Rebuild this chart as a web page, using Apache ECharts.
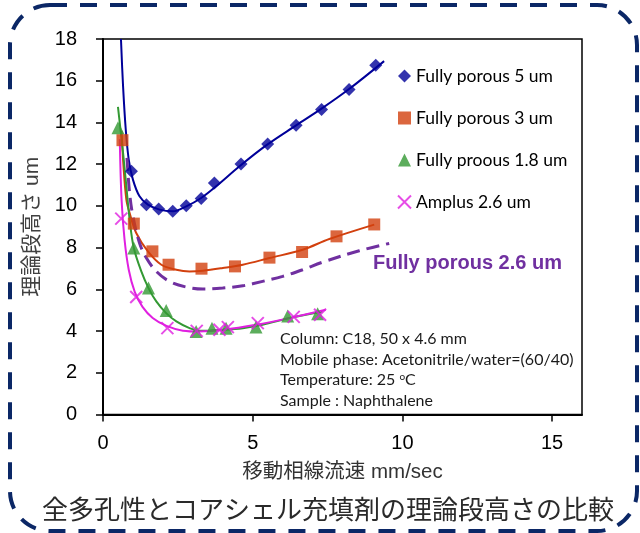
<!DOCTYPE html>
<html><head><meta charset="utf-8">
<script src="https://cdn.jsdelivr.net/npm/echarts@6/dist/echarts.min.js"></script>
<style>html,body{margin:0;padding:0;background:#fff}#c{width:640px;height:533px}</style>
</head><body><div id="c"></div>
<script>
// ---- data ----
const xTicks = [0, 5, 10, 15];
const seriesNames = ['Fully porous 5 um', 'Fully porous 3 um', 'Fully proous 1.8 um', 'Amplus 2.6 um'];

// Fully porous 5 um (measured points)
const fp5X = [0.95, 1.45, 1.86, 2.33, 2.78, 3.28, 3.72, 4.61, 5.50, 6.45, 7.30, 8.22, 9.11];
const fp5Y = [11.66, 10.06, 9.85, 9.74, 10.01, 10.35, 11.10, 12.01, 12.97, 13.86, 14.62, 15.58, 16.74];
// fitted curve as drawn
const fp5FitX = [0.60, 0.67, 0.76, 0.86, 1.00, 1.22, 1.50, 1.89, 2.33, 2.78, 3.28, 3.78, 4.56, 5.45, 6.45, 7.30, 8.22, 9.39];
const fp5FitY = [18.0, 15.74, 13.66, 12.22, 11.26, 10.46, 10.06, 9.82, 9.74, 9.98, 10.38, 10.94, 11.90, 12.90, 13.86, 14.66, 15.60, 16.94];

// Fully porous 3 um
const fp3X = [0.65, 1.03, 1.65, 2.19, 3.29, 4.41, 5.56, 6.65, 7.80, 9.06];
const fp3Y = [13.15, 9.15, 7.82, 7.18, 6.99, 7.10, 7.52, 7.79, 8.54, 9.11];
const fp3FitX = [0.62, 0.68, 0.78, 0.89, 1.11, 1.50, 1.95, 2.45, 2.89, 3.33, 4.00, 4.67, 5.56, 6.67, 7.56, 9.06];
const fp3FitY = [13.6, 12.0, 10.3, 9.66, 8.70, 7.82, 7.18, 6.94, 6.86, 6.89, 7.02, 7.18, 7.50, 7.90, 8.41, 9.10];

// Fully porous 2.6 um (dashed curve only)
const fp26FitX = [0.80, 0.89, 1.00, 1.22, 1.45, 1.78, 2.22, 2.78, 3.33, 4.00, 4.67, 5.33, 6.00, 6.67, 7.33, 8.56, 9.56];
const fp26FitY = [12.3, 10.6, 9.5, 8.22, 7.50, 6.86, 6.38, 6.11, 6.01, 6.06, 6.17, 6.38, 6.62, 6.94, 7.30, 7.85, 8.20];

// Fully proous 1.8 um
const fp18X = [0.50, 1.03, 1.52, 2.11, 3.11, 3.64, 4.11, 5.11, 6.17, 7.17];
const fp18Y = [13.74, 7.98, 6.06, 4.98, 3.98, 4.14, 4.14, 4.19, 4.72, 4.83];
const fp18FitX = [0.50, 0.67, 0.78, 0.89, 1.03, 1.28, 1.52, 1.78, 2.11, 2.45, 2.89, 3.22, 4.00, 4.67, 5.33, 6.22, 7.33];
const fp18FitY = [14.75, 12.54, 10.94, 9.34, 7.98, 6.86, 6.06, 5.42, 4.86, 4.46, 4.14, 4.01, 4.06, 4.14, 4.30, 4.62, 4.94];

// Amplus 2.6 um
const ampX = [0.61, 1.11, 2.15, 3.13, 3.89, 4.17, 5.17, 6.37, 7.25];
const ampY = [9.39, 5.63, 4.14, 4.01, 4.06, 4.19, 4.38, 4.68, 4.78];
const ampFitX = [0.56, 0.62, 0.72, 0.86, 1.06, 1.32, 1.66, 2.12, 2.67, 3.22, 4.00, 5.11, 6.22, 7.44];
const ampFitY = [13.2, 10.3, 8.38, 6.94, 5.88, 5.16, 4.63, 4.25, 4.02, 3.98, 4.06, 4.30, 4.62, 5.02];

const noteLines = ['Column: C18, 50 x 4.6 mm', 'Mobile phase: Acetonitrile/water=(60/40)', '{a|Temperature: 25 }{s|o}{a|C}', 'Sample : Naphthalene'];
const fp26Label = 'Fully porous 2.6 um';
const titleText = '全多孔性とコアシェル充填剤の理論段高さの比較';
const xName = '移動相線流速 mm/sec';
const yName = '理論段高さ um';

// ---- build ----
const zip = (xs, ys) => xs.map((x, i) => [x, ys[i]]);
const C5 = '#000099', C3 = '#d2400e', C18 = '#339933', CA = '#e020e0', C26 = '#7030a0';
const crossPath = 'path://M0,0L10,10M10,0L0,10';

function fitLine(name, xs, ys, color, dashed) {
  return {
    type: 'line', name: name, data: zip(xs, ys), showSymbol: false, smooth: 0.35,
    lineStyle: { color: color, width: dashed ? 3 : 2, type: dashed ? [13, 7] : 'solid' },
    z: 2, silent: true, clip: true
  };
}
function pts(name, xs, ys, symbol, color, size, extra) {
  return Object.assign({
    type: 'scatter', name: name, data: zip(xs, ys), symbol: symbol, symbolSize: size,
    itemStyle: { color: color }, z: 3
  }, extra || {});
}

const chart = echarts.init(document.getElementById('c'), null, { renderer: 'canvas' });
const tickFont = { fontFamily: 'Liberation Sans, Arial', fontSize: 20, color: '#000' };
const noteFont = 'Lato';
const noteSize = 16;

chart.setOption({
  animation: false,
  backgroundColor: '#fff',
  grid: { left: 103, right: 58, top: 39, bottom: 118.5, show: true, borderColor: '#000', borderWidth: 1.5 },
  xAxis: {
    type: 'value', min: 0, max: 16, interval: 5,
    name: xName, nameLocation: 'middle', nameGap: 48,
    nameTextStyle: { fontFamily: 'Liberation Sans, Noto Sans CJK JP', fontSize: 20.5, color: '#333' },
    axisLine: { lineStyle: { color: '#000', width: 2 } },
    axisTick: { show: true, inside: false, length: 7, customValues: xTicks, lineStyle: { color: '#000', width: 1.5 } },
    axisLabel: Object.assign({ margin: 19, customValues: xTicks }, tickFont),
    splitLine: { show: false }
  },
  yAxis: {
    type: 'value', min: 0, max: 18, interval: 2,
    name: yName, nameLocation: 'middle', nameGap: 60, nameRotate: 90,
    nameTextStyle: { fontFamily: 'Liberation Sans, Noto Sans CJK JP', fontSize: 21, color: '#404040' },
    axisLine: { show: true, lineStyle: { color: '#000', width: 2 } },
    axisTick: { show: true, inside: false, length: 7, lineStyle: { color: '#000', width: 1.5 } },
    axisLabel: Object.assign({ margin: 26 }, tickFont),
    splitLine: { show: false }
  },
  legend: {
    data: seriesNames, orient: 'vertical', left: 392, top: 62,
    itemWidth: 13, itemHeight: 13, itemGap: 24,
    textStyle: { fontFamily: 'Lato', fontSize: 17.5, color: '#000', lineHeight: 18 }
  },
  series: [
    fitLine('fit5', fp5FitX, fp5FitY, C5),
    fitLine('fit3', fp3FitX, fp3FitY, C3),
    fitLine('fit26', fp26FitX, fp26FitY, C26, true),
    fitLine('fit18', fp18FitX, fp18FitY, C18),
    fitLine('fitA', ampFitX, ampFitY, CA),
    pts(seriesNames[0], fp5X, fp5Y, 'diamond', C5, 13),
    pts(seriesNames[1], fp3X, fp3Y, 'rect', C3, 12),
    pts(seriesNames[2], fp18X, fp18Y, 'triangle', C18, 13),
    pts(seriesNames[3], ampX, ampY, crossPath, CA, 12, { itemStyle: { color: 'rgba(0,0,0,0)', borderColor: CA, borderWidth: 2 } })
  ],
  graphic: [
    { type: 'rect', shape: { x: 10, y: 5, width: 627, height: 526, r: 40 },
      style: { fill: 'none', stroke: '#0b2766', lineWidth: 4, lineDash: [17, 13] }, silent: true },
    { type: 'text', left: 373, top: 253,
      style: { text: fp26Label, fontFamily: 'Liberation Sans, Arial', fontWeight: 'bold', fontSize: 20, fill: C26 } },
    { type: 'text', x: 328, y: 509,
      style: { text: titleText, fontFamily: 'Noto Sans CJK JP', fontSize: 26, fill: '#2a2a2a', align: 'center', verticalAlign: 'middle' } }
  ].concat(noteLines.map((t, i) => ({
    type: 'text', x: 280, y: 339 + i * 20.5,
    style: { text: t, verticalAlign: 'middle', fontFamily: noteFont, fontSize: noteSize, fill: '#1a1a1a',
      rich: { a: { fontFamily: noteFont, fontSize: noteSize, color: '#1a1a1a' },
              s: { fontFamily: noteFont, fontSize: 10, color: '#1a1a1a', padding: [0, 0, 7, 0] } } }
  })))
});
</script></body></html>
